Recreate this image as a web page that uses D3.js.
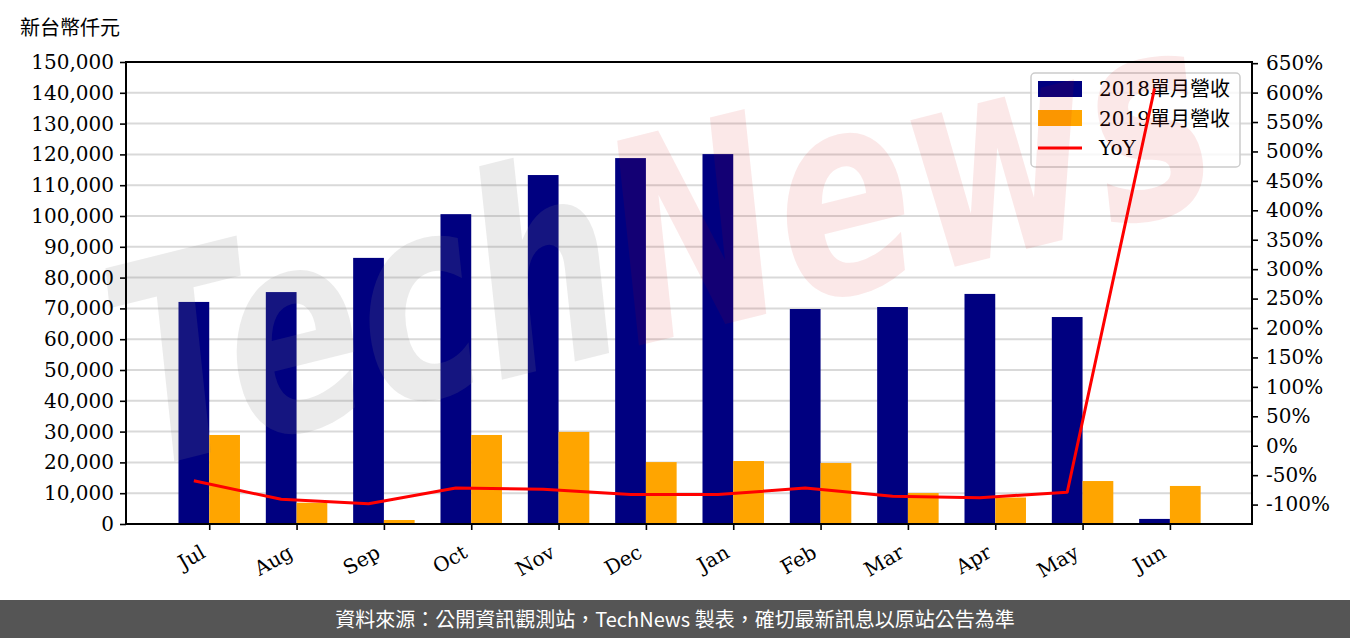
<!DOCTYPE html>
<html>
<head>
<meta charset="utf-8">
<script src="https://cdn.jsdelivr.net/npm/d3@7"></script>
<style>
  html, body { margin: 0; padding: 0; background: #ffffff; }
  svg { display: block; }
</style>
</head>
<body>
<script>
// ---- data ----
const months = ["Jul", "Aug", "Sep", "Oct", "Nov", "Dec", "Jan", "Feb", "Mar", "Apr", "May", "Jun"];
const rev2018 = [72100, 75300, 86400, 100600, 113300, 118800, 120100, 69800, 70450, 74700, 67200, 1650];
const rev2019 = [28900, 6900, 1300, 28900, 29900, 20100, 20450, 19800, 10050, 8600, 13950, 12350];
const yoyPct = [-59.5, -91, -98.5, -72, -74, -83, -83, -72, -86, -88.5, -79, 607];
const leftTickValues = [0, 10000, 20000, 30000, 40000, 50000, 60000, 70000, 80000, 90000, 100000, 110000, 120000, 130000, 140000, 150000];
const rightTickValues = [-100, -50, 0, 50, 100, 150, 200, 250, 300, 350, 400, 450, 500, 550, 600, 650];
const seriesNames = ["2018單月營收", "2019單月營收", "YoY"];
const unitLabel = "新台幣仟元";
const footerText = "資料來源：公開資訊觀測站，TechNews 製表，確切最新訊息以原站公告為準";

// ---- layout ----
const W = 1350, H = 638;
const L = 126, R = 1252, T = 62, B = 524;
const FONT = "'DejaVu Serif', 'Noto Sans CJK TC', serif";
const navy = "#000080", orange = "#FFA500", red = "#FF0000";

const svg = d3.select("body").append("svg").attr("width", W).attr("height", H);
svg.append("rect").attr("width", W).attr("height", H).attr("fill", "#fff");

const x = d3.scaleLinear().domain([-0.953, 11.94]).range([L, R]);
const bw = 0.352;
const yL = d3.scaleLinear().domain([0, 150000]).range([B, T]);
const yR = d3.scaleLinear().domain([-133, 652]).range([B, T]);

// grid
svg.append("g").selectAll("line").data(leftTickValues).join("line")
  .attr("x1", L).attr("x2", R)
  .attr("y1", d => yL(d)).attr("y2", d => yL(d))
  .attr("stroke", "#d9d9d9").attr("stroke-width", 2);

// bars
svg.append("g").selectAll("rect").data(rev2018).join("rect")
  .attr("x", (d, i) => x(i - bw)).attr("width", (d, i) => x(i) - x(i - bw))
  .attr("y", d => yL(d)).attr("height", d => B - yL(d))
  .attr("fill", navy);
svg.append("g").selectAll("rect").data(rev2019).join("rect")
  .attr("x", (d, i) => x(i)).attr("width", (d, i) => x(i + bw) - x(i))
  .attr("y", d => yL(d)).attr("height", d => B - yL(d))
  .attr("fill", orange);

// legend (belongs to the bar axes; the YoY line is drawn over it)
const lg = svg.append("g");
lg.append("rect").attr("x", 1031).attr("y", 73).attr("width", 209).attr("height", 94)
  .attr("rx", 4).attr("fill", "#fff").attr("fill-opacity", 0.8)
  .attr("stroke", "#cccccc").attr("stroke-width", 1.5);
lg.append("rect").attr("x", 1038).attr("y", 81).attr("width", 44).attr("height", 16).attr("fill", navy);
lg.append("rect").attr("x", 1038).attr("y", 110).attr("width", 44).attr("height", 16).attr("fill", orange);
lg.append("line").attr("x1", 1038).attr("x2", 1082).attr("y1", 148).attr("y2", 148)
  .attr("stroke", red).attr("stroke-width", 3);
lg.selectAll("text.lt").data(seriesNames).join("text").attr("class", "lt")
  .attr("x", 1099).attr("y", (d, i) => 96 + i * 29.5).text(d => d)
  .attr("font-family", FONT).attr("font-size", 20).attr("fill", "#000");

// YoY line
const line = d3.line().x((d, i) => x(i - bw / 2)).y(d => yR(d));
svg.append("path").datum(yoyPct).attr("d", line)
  .attr("fill", "none").attr("stroke", red).attr("stroke-width", 3)
  .attr("stroke-linejoin", "round");

// watermark
const wm = svg.append("g").attr("transform", "translate(140,470) rotate(-14)")
  .attr("pointer-events", "none");
const wmText = wm.append("text")
  .attr("font-family", "'DejaVu Sans', sans-serif")
  .attr("font-style", "italic").attr("font-weight", "bold")
  .attr("font-size", 280)
  .attr("textLength", 1120).attr("lengthAdjust", "spacingAndGlyphs");
wmText.append("tspan").text("Tech").attr("fill", "#808080").attr("fill-opacity", 0.16);
wmText.append("tspan").text("News").attr("fill", "#d00000").attr("fill-opacity", 0.09);

// axes
const axL = svg.append("g").attr("transform", `translate(${L},0)`)
  .call(d3.axisLeft(yL).tickValues(leftTickValues).tickSize(6).tickPadding(6)
    .tickFormat(d3.format(",")));
const axR = svg.append("g").attr("transform", `translate(${R},0)`)
  .call(d3.axisRight(yR).tickValues(rightTickValues).tickSize(6).tickPadding(8)
    .tickFormat(d => d + "%"));
const axB = svg.append("g").attr("transform", `translate(0,${B})`)
  .call(d3.axisBottom(x).tickValues(d3.range(months.length)).tickSize(6)
    .tickFormat(i => months[i]));
[axL, axR, axB].forEach(a => {
  a.select(".domain").remove();
  a.selectAll(".tick line").attr("stroke", "#000").attr("stroke-width", 1.6);
  a.selectAll("text").attr("font-family", FONT).attr("font-size", 20).attr("fill", "#000");
});
axB.selectAll("text")
  .attr("text-anchor", "end")
  .attr("y", 0)
  .attr("dy", "0.71em")
  .attr("transform", "translate(-10,20) rotate(-30)");

// frame
svg.append("rect").attr("x", L).attr("y", T).attr("width", R - L).attr("height", B - T)
  .attr("fill", "none").attr("stroke", "#000").attr("stroke-width", 2);

// unit label
svg.append("text").attr("x", 20).attr("y", 35).text(unitLabel)
  .attr("font-family", FONT).attr("font-size", 20).attr("fill", "#000");

// footer
svg.append("rect").attr("x", 0).attr("y", 600).attr("width", W).attr("height", 38).attr("fill", "#555555");
svg.append("text").attr("x", W / 2).attr("y", 627).attr("text-anchor", "middle")
  .text(footerText).attr("font-family", "'Noto Sans CJK TC', sans-serif")
  .attr("font-size", 20).attr("fill", "#fff");
</script>
</body>
</html>
